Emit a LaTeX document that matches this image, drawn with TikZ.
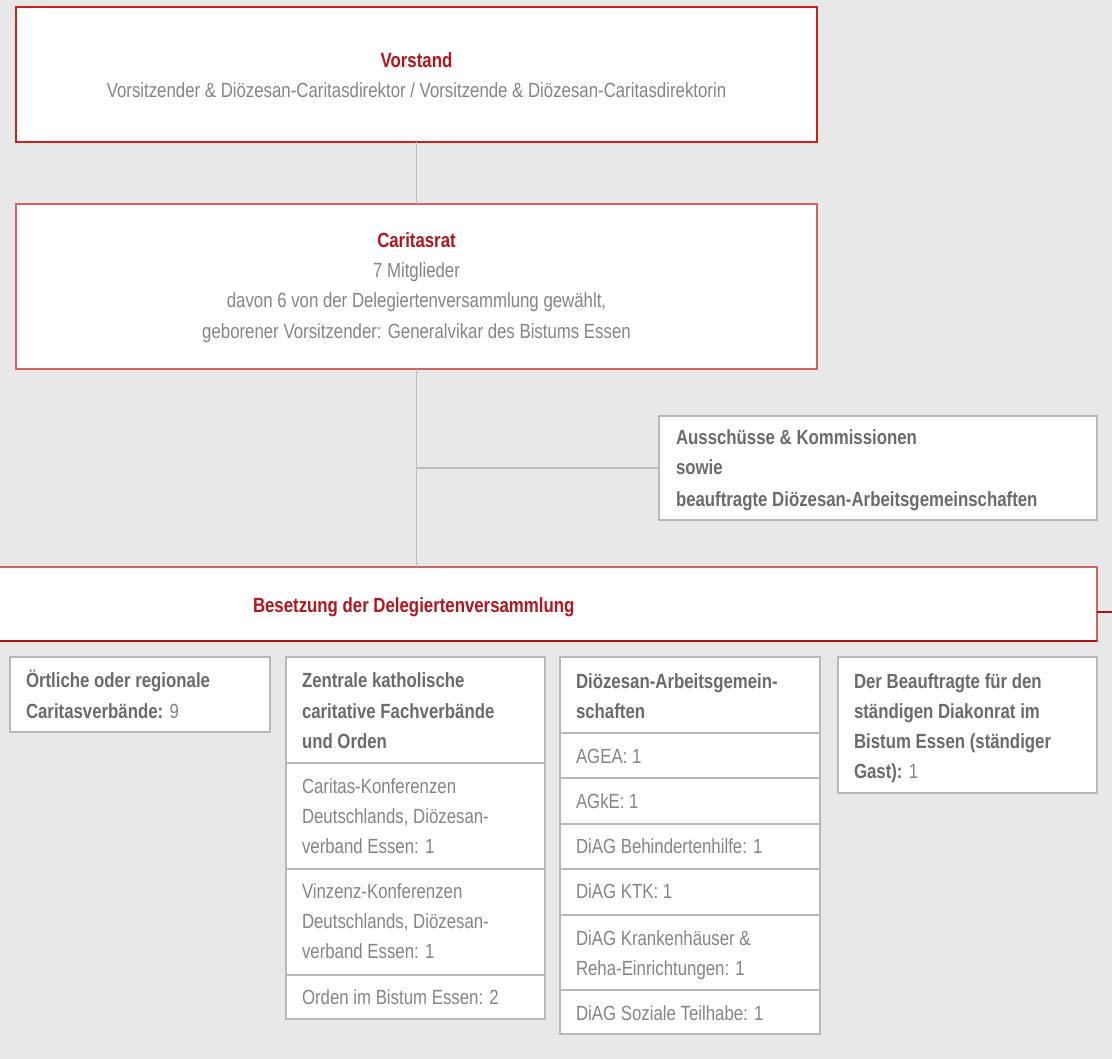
\documentclass[tikz,border=0pt]{standalone}
\usepackage{fontspec}
\setmainfont{Liberation Sans}[FakeStretch=0.82]
\definecolor{bg}{HTML}{E8E8E8}
\definecolor{titlered}{HTML}{B3161C}
\definecolor{boxred}{HTML}{CC2020}
\definecolor{softred}{HTML}{D06464}
\definecolor{darkred}{HTML}{B01212}
\definecolor{txtgray}{HTML}{858585}
\definecolor{boldgray}{HTML}{6B6B6B}
\definecolor{linegray}{HTML}{BDBDBD}
\definecolor{boxgray}{HTML}{B8B8B8}
\begin{document}
\begin{tikzpicture}[x=1pt,y=-1pt,
  every node/.style={inner sep=0pt, outer sep=0pt},
  redbox/.style={draw=boxred, line width=1.2pt, fill=white, rectangle},
  softbox/.style={draw=softred, line width=1.2pt, fill=white, rectangle},
  graybox/.style={draw=boxgray, line width=1.2pt, fill=white, rectangle},
  conn/.style={draw=linegray, line width=1.5pt},
  ttl/.style={anchor=base, text=titlered, font=\fontsize{20.5}{30}\selectfont\bfseries},
  ctext/.style={anchor=base, text=txtgray, font=\fontsize{20.5}{30}\selectfont},
  lt/.style={anchor=base west, text=txtgray, font=\fontsize{20.5}{30}\selectfont},
  bt/.style={anchor=base west, text=boldgray, font=\fontsize{20.5}{30}\selectfont\bfseries}]
\fill[bg] (0,0) rectangle (1112,1059);
\useasboundingbox (0,0) rectangle (1112,1059);

% main boxes
\node[redbox, minimum width=801pt, minimum height=135pt] (vorstand) at (416.5,74.5) {};
\node[softbox, minimum width=801pt, minimum height=165pt] (rat) at (416.5,286.5) {};
\node[graybox, minimum width=438pt, minimum height=104pt] (aus) at (878,468) {};
\node[softbox, minimum width=1098pt, minimum height=74pt] (bes) at (548,604) {};
\draw[darkred, line width=1.2pt] (bes.south west) -- (bes.south east);
\coordinate (redend) at (1112,612);
\draw[darkred, line width=1.2pt] (bes.east |- redend) -- (redend);

% connectors
\draw[conn] (vorstand.south) -- (rat.north);
\draw[conn] (rat.south) -- (rat.south |- bes.north);
\draw[conn] (rat.south |- aus.west) -- (aus.west);

% texts main
\node[ttl] (vT) at (416.5,68) {Vorstand};
\node[ctext] (vS) at (416.5,98) {Vorsitzender \& Diözesan-Caritasdirektor / Vorsitzende \& Diözesan-Caritasdirektorin};
\node[ttl] (rT) at (416.5,248) {Caritasrat};
\node[ctext] (r1) at (416.5,278) {7 Mitglieder};
\node[ctext] (r2) at (416.5,308) {davon 6 von der Delegiertenversammlung gewählt,};
\node[ctext] (r3) at (416.5,339) {geborener Vorsitzender: Generalvikar des Bistums Essen};
\node[bt] (a1) at (676,445) {Ausschüsse \& Kommissionen};
\node[bt] (a2) at (676,475) {sowie};
\node[bt] (a3) at (676,506) {beauftragte Diözesan-Arbeitsgemeinschaften};
\node[ttl, anchor=base west] (bT) at (253,612) {Besetzung der Delegiertenversammlung};

% column 1
\node[graybox, minimum width=260pt, minimum height=75pt] (c1) at (140,694.5) {};
\node[bt] (c1a) at (26,687) {Örtliche oder regionale};
\node[bt] (c1b) at (26,718) {Caritasverbände: {\mdseries\color{txtgray}9}};

% column 2
\node[graybox, minimum width=259pt, minimum height=106pt] (c2h) at (415.5,710) {};
\node[graybox, minimum width=259pt, minimum height=106pt] (c2r1) at (415.5,816) {};
\node[graybox, minimum width=259pt, minimum height=106pt] (c2r2) at (415.5,922) {};
\node[graybox, minimum width=259pt, minimum height=44pt] (c2r3) at (415.5,997) {};
\node[bt] (c2a) at (302,687) {Zentrale katholische};
\node[bt] (c2b) at (302,718) {caritative Fachverbände};
\node[bt] (c2c) at (302,748) {und Orden};
\node[lt] (c2d) at (302,793) {Caritas-Konferenzen};
\node[lt] (c2e) at (302,823) {Deutschlands, Diözesan-};
\node[lt] (c2f) at (302,853) {verband Essen: 1};
\node[lt] (c2g) at (302,898) {Vinzenz-Konferenzen};
\node[lt] (c2h2) at (302,928) {Deutschlands, Diözesan-};
\node[lt] (c2i) at (302,958) {verband Essen: 1};
\node[lt] (c2j) at (302,1004) {Orden im Bistum Essen: 2};

% column 3
\node[graybox, minimum width=260pt, minimum height=76pt] (c3h) at (690,695) {};
\node[graybox, minimum width=260pt, minimum height=45pt] (c3r1) at (690,755.5) {};
\node[graybox, minimum width=260pt, minimum height=46pt] (c3r2) at (690,801) {};
\node[graybox, minimum width=260pt, minimum height=45pt] (c3r3) at (690,846.5) {};
\node[graybox, minimum width=260pt, minimum height=46pt] (c3r4) at (690,892) {};
\node[graybox, minimum width=260pt, minimum height=75pt] (c3r5) at (690,952.5) {};
\node[graybox, minimum width=260pt, minimum height=44pt] (c3r6) at (690,1012) {};
\node[bt] (c3a) at (576,688) {Diözesan-Arbeitsgemein-};
\node[bt] (c3b) at (576,718) {schaften};
\node[lt] (c3c) at (576,763) {AGEA: 1};
\node[lt] (c3d) at (576,808) {AGkE: 1};
\node[lt] (c3e) at (576,853) {DiAG Behindertenhilfe: 1};
\node[lt] (c3f) at (576,898) {DiAG KTK: 1};
\node[lt] (c3g) at (576,945) {DiAG Krankenhäuser \&};
\node[lt] (c3h2) at (576,975) {Reha-Einrichtungen: 1};
\node[lt] (c3i) at (576,1020) {DiAG Soziale Teilhabe: 1};

% column 4
\node[graybox, minimum width=259pt, minimum height=136pt] (c4) at (967.5,725) {};
\node[bt] (c4a) at (854,688) {Der Beauftragte für den};
\node[bt] (c4b) at (854,718) {ständigen Diakonrat im};
\node[bt] (c4c) at (854,748) {Bistum Essen (ständiger};
\node[bt] (c4d) at (854,778) {Gast): {\mdseries\color{txtgray}1}};
\end{tikzpicture}
\end{document}
